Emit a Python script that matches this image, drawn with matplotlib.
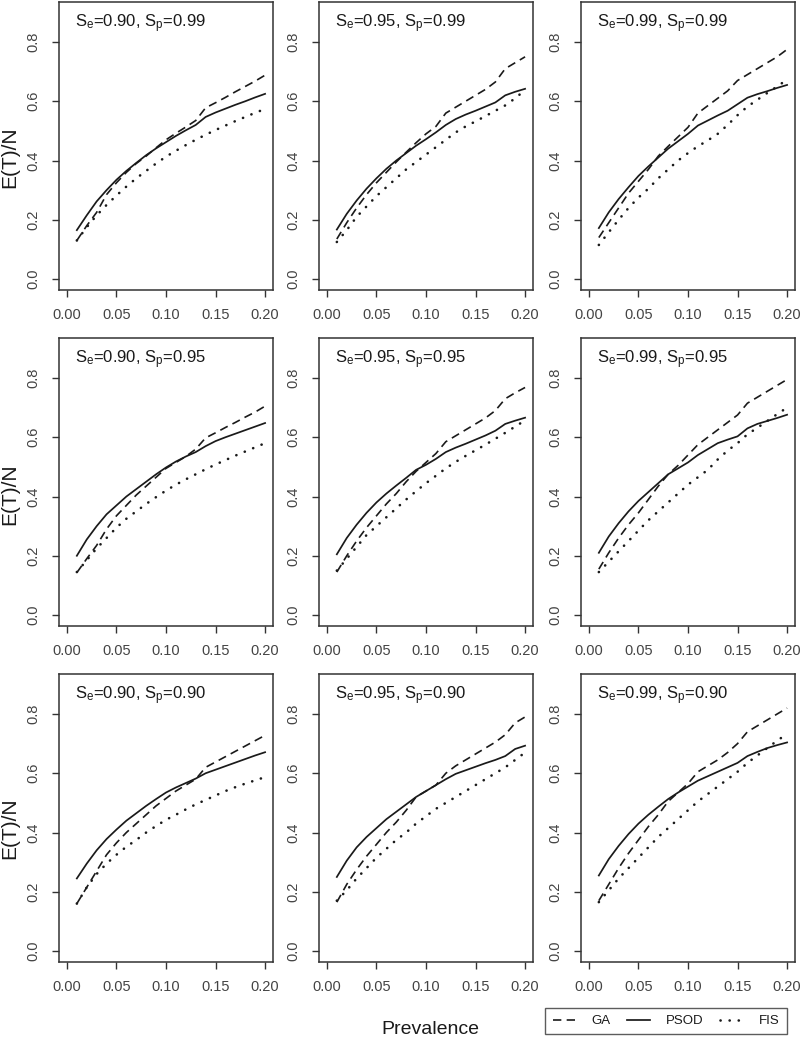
import matplotlib
matplotlib.use("Agg")
import matplotlib.pyplot as plt

plt.rcParams['font.family'] = ['Liberation Sans', 'DejaVu Sans']
plt.rcParams['mathtext.fontset'] = 'custom'
plt.rcParams['mathtext.rm'] = 'Liberation Sans'
plt.rcParams['mathtext.it'] = 'Liberation Sans'

# prevalence grid
prevalence = [0.01, 0.02, 0.03, 0.04, 0.05, 0.06, 0.07, 0.08, 0.09, 0.10,
              0.11, 0.12, 0.13, 0.14, 0.15, 0.16, 0.17, 0.18, 0.19, 0.20]

# Sp = 0.99
ga_se90_sp99 = [.13, .18, .225, .285, .325, .36, .39, .415, .443, .47, .492, .513, .535, .578, .595, .613, .632, .65, .668, .688]
psod_se90_sp99 = [.165, .215, .262, .30, .335, .365, .392, .418, .441, .462, .483, .502, .52, .547, .562, .575, .588, .60, .613, .625]
fis_se90_sp99 = [.13, .175, .215, .25, .282, .312, .34, .365, .39, .413, .433, .452, .47, .487, .503, .518, .533, .547, .561, .574]

ga_se95_sp99 = [.135, .19, .24, .285, .325, .36, .395, .428, .46, .49, .515, .56, .58, .60, .62, .64, .665, .71, .73, .75]
psod_se95_sp99 = [.167, .22, .265, .305, .34, .372, .40, .425, .45, .472, .495, .52, .54, .555, .568, .582, .596, .62, .632, .642]
fis_se95_sp99 = [.125, .165, .21, .245, .28, .31, .34, .37, .395, .42, .445, .47, .495, .515, .532, .55, .568, .586, .61, .638]

ga_se99_sp99 = [.14, .19, .24, .29, .33, .37, .415, .448, .48, .512, .56, .585, .61, .635, .67, .69, .71, .73, .75, .775]
psod_se99_sp99 = [.172, .225, .27, .31, .348, .38, .41, .44, .465, .49, .518, .535, .552, .568, .59, .612, .624, .634, .645, .655]
fis_se99_sp99 = [.115, .158, .20, .24, .275, .305, .34, .37, .40, .425, .448, .468, .49, .52, .553, .582, .605, .628, .65, .673]

# Sp = 0.95
ga_se90_sp95 = [.143, .19, .235, .29, .335, .37, .405, .435, .465, .495, .515, .535, .56, .598, .615, .633, .65, .668, .685, .705]
psod_se90_sp95 = [.20, .255, .30, .34, .37, .40, .425, .45, .475, .498, .518, .535, .55, .57, .587, .60, .612, .624, .636, .648]
fis_se90_sp95 = [.145, .185, .225, .26, .295, .325, .35, .375, .398, .42, .44, .458, .475, .492, .508, .523, .538, .552, .566, .58]

ga_se95_sp95 = [.145, .20, .25, .295, .335, .375, .41, .45, .485, .515, .545, .585, .605, .625, .645, .665, .69, .73, .75, .768]
psod_se95_sp95 = [.205, .26, .305, .345, .38, .41, .437, .463, .49, .507, .527, .55, .565, .578, .592, .606, .622, .645, .656, .666]
fis_se95_sp95 = [.15, .19, .23, .27, .30, .33, .36, .39, .418, .445, .47, .495, .517, .537, .556, .575, .595, .615, .636, .657]

ga_se99_sp95 = [.155, .21, .26, .305, .345, .39, .435, .475, .505, .54, .575, .60, .625, .65, .675, .715, .735, .755, .775, .795]
psod_se99_sp95 = [.21, .265, .31, .35, .385, .415, .445, .475, .495, .515, .54, .56, .58, .592, .603, .63, .645, .655, .665, .676]
fis_se99_sp95 = [.145, .18, .215, .25, .285, .32, .35, .38, .41, .44, .465, .49, .525, .555, .58, .61, .632, .655, .678, .70]

# Sp = 0.90
ga_se90_sp90 = [.16, .215, .27, .325, .365, .40, .43, .46, .49, .515, .54, .56, .58, .62, .638, .656, .674, .692, .71, .728]
psod_se90_sp90 = [.245, .295, .34, .378, .41, .44, .465, .49, .513, .535, .552, .567, .582, .60, .612, .624, .636, .648, .66, .671]
fis_se90_sp90 = [.16, .215, .26, .295, .325, .352, .375, .40, .422, .443, .46, .478, .495, .51, .525, .54, .553, .565, .576, .587]

ga_se95_sp90 = [.165, .225, .275, .32, .36, .40, .435, .475, .52, .54, .56, .60, .625, .645, .665, .685, .705, .73, .77, .79]
psod_se95_sp90 = [.25, .305, .35, .385, .415, .445, .47, .495, .52, .54, .56, .58, .598, .61, .622, .634, .645, .658, .682, .693]
fis_se95_sp90 = [.17, .205, .245, .28, .315, .345, .375, .40, .43, .455, .48, .50, .52, .54, .56, .58, .60, .62, .645, .67]

ga_se99_sp90 = [.17, .225, .28, .33, .375, .42, .46, .505, .535, .565, .605, .625, .645, .67, .70, .74, .76, .78, .80, .82]
psod_se99_sp90 = [.255, .31, .355, .395, .43, .46, .487, .513, .535, .555, .575, .59, .605, .62, .635, .658, .672, .685, .695, .704]
fis_se99_sp90 = [.165, .205, .245, .28, .315, .35, .385, .415, .445, .475, .505, .53, .555, .58, .605, .635, .66, .685, .71, .733]

panels = [
    ("0.90", "0.99", ga_se90_sp99, psod_se90_sp99, fis_se90_sp99),
    ("0.95", "0.99", ga_se95_sp99, psod_se95_sp99, fis_se95_sp99),
    ("0.99", "0.99", ga_se99_sp99, psod_se99_sp99, fis_se99_sp99),
    ("0.90", "0.95", ga_se90_sp95, psod_se90_sp95, fis_se90_sp95),
    ("0.95", "0.95", ga_se95_sp95, psod_se95_sp95, fis_se95_sp95),
    ("0.99", "0.95", ga_se99_sp95, psod_se99_sp95, fis_se99_sp95),
    ("0.90", "0.90", ga_se90_sp90, psod_se90_sp90, fis_se90_sp90),
    ("0.95", "0.90", ga_se95_sp90, psod_se95_sp90, fis_se95_sp90),
    ("0.99", "0.90", ga_se99_sp90, psod_se99_sp90, fis_se99_sp90),
]

xticks = [0.00, 0.05, 0.10, 0.15, 0.20]
yticks = [0.0, 0.2, 0.4, 0.6, 0.8]

W, H = 800, 1041
fig = plt.figure(figsize=(8, 10.41), dpi=100)

lefts = [59, 319, 581]
bottoms = [289.7, 625.7, 961.7]
aw, ah = 214, 288
frame = '#333333'
txt = '#444444'
ink = '#1a1a1a'

handles = None
for i, (se, sp, ga, psod, fis) in enumerate(panels):
    r, c = divmod(i, 3)
    ax = fig.add_axes([lefts[c] / W, 1 - bottoms[r] / H, aw / W, ah / H])
    l1, = ax.plot(prevalence, ga, color=ink, lw=1.2, ls=(0, (5, 3.2)))
    l2, = ax.plot(prevalence, psod, color=ink, lw=1.25, ls='-')
    l3, = ax.plot(prevalence, fis, color=ink, lw=1.9, ls=(0, (0.05, 3.4)),
                  dash_capstyle='round')
    handles = [l1, l2, l3]
    ax.set_xlim(-0.008, 0.208)
    ax.set_ylim(-0.036, 0.936)
    ax.set_xticks(xticks)
    ax.set_xticklabels(["%.2f" % v for v in xticks])
    ax.set_yticks(yticks)
    ax.set_yticklabels(["%.1f" % v for v in yticks], rotation=90, va='center')
    ax.tick_params(axis='both', direction='out', length=5, width=1,
                   color=frame, labelcolor=txt, labelsize=10.5)
    ax.tick_params(axis='x', pad=8)
    ax.tick_params(axis='y', pad=8.5)
    for s in ax.spines.values():
        s.set_color(frame)
        s.set_linewidth(1.1)
    ax.text(0.075, 0.925, r"S$_{\mathrm{e}}$=%s, S$_{\mathrm{p}}$=%s" % (se, sp),
            transform=ax.transAxes, fontsize=12, color=ink, va='center', ha='left')

for yc in [157, 494, 828]:
    fig.text(10 / W, 1 - yc / H, "E(T)/N", rotation=90, fontsize=15,
             color=ink, ha='center', va='center')

fig.text(430 / W, 1 - 1034 / H, "Prevalence", fontsize=14, color=ink,
         ha='center', va='baseline')

leg = fig.legend(handles, ["GA", "PSOD", "FIS"], ncol=3,
                 loc='center', bbox_to_anchor=(666 / W, 1 - 1021 / H),
                 fontsize=9.5, frameon=True, fancybox=False,
                 edgecolor=frame, handlelength=1.7, columnspacing=1.3,
                 handletextpad=1.2, borderpad=0.55)
leg.get_frame().set_linewidth(1.0)
for t in leg.get_texts():
    t.set_color(ink)

fig.savefig("out.png", dpi=100, facecolor='white')
